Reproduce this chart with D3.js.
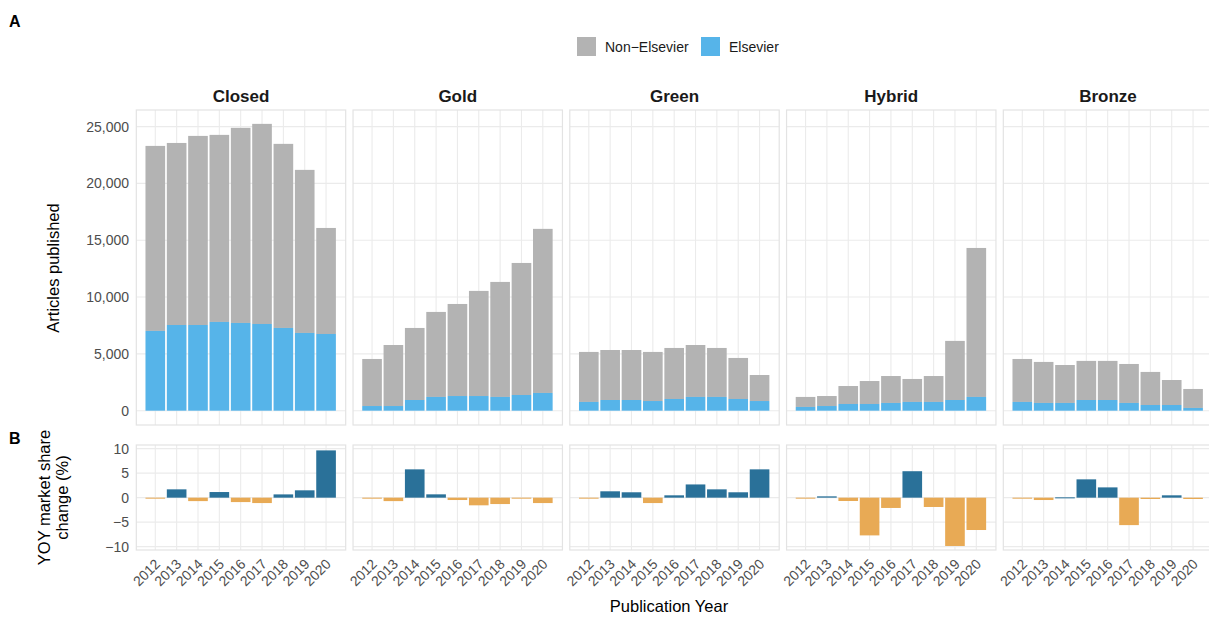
<!DOCTYPE html>
<html><head><meta charset="utf-8">
<script src="https://cdn.jsdelivr.net/npm/d3@7"></script>
<style>body{margin:0;background:#fff}svg{display:block;font-family:"Liberation Sans",Arial,sans-serif}</style>
</head><body><svg id="c" width="1209" height="618"></svg>
<script>
const years = [2012,2013,2014,2015,2016,2017,2018,2019,2020];
const categories = ["Closed","Gold","Green","Hybrid","Bronze"];
// total articles per year (Elsevier + Non-Elsevier)
const totalClosed = [23300,23560,24180,24270,24890,25240,23480,21190,16080];
const totalGold   = [4550,5780,7280,8690,9390,10540,11330,13000,16000];
const totalGreen  = [5170,5340,5340,5170,5520,5780,5520,4640,3140];
const totalHybrid = [1210,1290,2170,2610,3050,2790,3050,6140,14320];
const totalBronze = [4550,4290,4020,4380,4380,4110,3410,2700,1910];
// Elsevier articles per year
const elsClosed = [7020,7540,7540,7810,7720,7630,7280,6840,6750];
const elsGold   = [410,410,940,1210,1290,1290,1210,1380,1560];
const elsGreen  = [770,940,940,850,1030,1210,1210,1030,850];
const elsHybrid = [330,410,590,590,680,770,770,940,1210];
const elsBronze = [770,680,680,940,940,680,500,500,240];
// YOY market share change (%)
const yoyClosed = [-0.15,1.7,-0.7,1.15,-0.9,-1.1,0.67,1.5,9.65];
const yoyGold   = [-0.15,-0.7,5.78,0.68,-0.48,-1.56,-1.3,-0.15,-1.1];
const yoyGreen  = [-0.15,1.3,1.1,-1.1,0.48,2.7,1.7,1.1,5.78];
const yoyHybrid = [-0.15,0.27,-0.68,-7.7,-2.1,5.4,-1.9,-9.86,-6.6];
const yoyBronze = [-0.15,-0.48,0.07,3.74,2.1,-5.6,-0.27,0.48,-0.27];
const topTicks = [0,5000,10000,15000,20000,25000];
const botTicks = [-10,-5,0,5,10];
const legendLabels = ["Non\u2212Elsevier","Elsevier"];

const totals = [totalClosed,totalGold,totalGreen,totalHybrid,totalBronze];
const els = [elsClosed,elsGold,elsGreen,elsHybrid,elsBronze];
const yoy = [yoyClosed,yoyGold,yoyGreen,yoyHybrid,yoyBronze];

const C = {grey:"#B3B3B3", blue:"#56B4E9", dark:"#2A7199", orange:"#E8AA55", grid:"#EBEBEB", border:"#E3E3E3", tick:"#4D4D4D"};
const svg = d3.select("#c");
const pw = 209.4, pstep = 216.75, p0 = 136.3;
const pTop = {y0:110, y1:425}, pBot = {y0:445, y1:550};
const x = d3.scaleLinear().domain([2012-0.89, 2020+0.92]).range([0,pw]);
const yT = d3.scaleLinear().domain([-1260,26460]).range([pTop.y1, pTop.y0]);
const yB = d3.scaleLinear().domain([-10.68,10.75]).range([pBot.y1, pBot.y0]);
const bw = 0.92*(x(2013)-x(2012));
const fmt = d3.format(",");

categories.forEach((cat,i)=>{
  const g = svg.append("g").attr("transform",`translate(${p0+i*pstep},0)`);
  [[pTop,yT,topTicks],[pBot,yB,botTicks]].forEach(([p,ys,ticks])=>{
    g.selectAll(null).data(ticks).join("line").attr("x1",0).attr("x2",pw)
      .attr("y1",d=>ys(d)).attr("y2",d=>ys(d)).attr("stroke",C.grid).attr("stroke-width",1.1);
    g.selectAll(null).data(years).join("line").attr("x1",d=>x(d)).attr("x2",d=>x(d))
      .attr("y1",p.y0).attr("y2",p.y1).attr("stroke",C.grid).attr("stroke-width",1.1);
  });
  g.selectAll(null).data(years).join("rect").attr("x",(d)=>x(d)-bw/2).attr("width",bw)
    .attr("y",(d,j)=>yT(totals[i][j])).attr("height",(d,j)=>yT(els[i][j])-yT(totals[i][j])).attr("fill",C.grey);
  g.selectAll(null).data(years).join("rect").attr("x",(d)=>x(d)-bw/2).attr("width",bw)
    .attr("y",(d,j)=>yT(els[i][j])).attr("height",(d,j)=>yT(0)-yT(els[i][j])).attr("fill",C.blue);
  g.selectAll(null).data(years).join("rect").attr("x",(d)=>x(d)-bw/2).attr("width",bw)
    .attr("y",(d,j)=>yB(Math.max(0,yoy[i][j]))).attr("height",(d,j)=>Math.max(1,Math.abs(yB(yoy[i][j])-yB(0))))
    .attr("fill",(d,j)=>yoy[i][j]>0?C.dark:C.orange);
  [pTop,pBot].forEach(p=>g.append("rect").attr("x",0).attr("y",p.y0).attr("width",pw).attr("height",p.y1-p.y0)
    .attr("fill","none").attr("stroke",C.border).attr("stroke-width",1.2));
  g.append("text").attr("x",pw/2).attr("y",101.5).attr("text-anchor","middle").attr("font-weight","bold")
    .attr("font-size",17).attr("fill","#1A1A1A").text(cat);
  g.selectAll(null).data(years).join("text")
    .attr("transform",d=>`translate(${x(d)-1.2},${558}) rotate(-45)`).attr("text-anchor","end")
    .attr("dy","0.7em").attr("font-size",14).attr("fill",C.tick).text(d=>d);
});
svg.selectAll(null).data(topTicks).join("text").attr("x",129).attr("y",d=>yT(d)).attr("dy","0.36em")
  .attr("text-anchor","end").attr("font-size",14).attr("fill",C.tick).text(d=>fmt(d));
svg.selectAll(null).data(botTicks).join("text").attr("x",129).attr("y",d=>yB(d)).attr("dy","0.36em")
  .attr("text-anchor","end").attr("font-size",14).attr("fill",C.tick).text(d=>d3.format("")(d));
svg.append("text").attr("transform","translate(58.5,268) rotate(-90)").attr("text-anchor","middle")
  .attr("font-size",16.5).attr("fill","#000").text("Articles published");
svg.append("text").attr("transform","translate(49.5,497.5) rotate(-90)").attr("text-anchor","middle")
  .attr("font-size",16.5).attr("fill","#000").text("YOY market share");
svg.append("text").attr("transform","translate(68,497.5) rotate(-90)").attr("text-anchor","middle")
  .attr("font-size",16.5).attr("fill","#000").text("change (%)");
svg.append("text").attr("x",669).attr("y",612).attr("text-anchor","middle")
  .attr("font-size",16.5).attr("fill","#000").text("Publication Year");
svg.append("text").attr("x",9).attr("y",27.3).attr("font-weight","bold").attr("font-size",16).text("A");
svg.append("text").attr("x",9).attr("y",444).attr("font-weight","bold").attr("font-size",16).text("B");
const lg = svg.append("g");
const lx = [577,701], lc = [C.grey,C.blue];
legendLabels.forEach((t,k)=>{
  lg.append("rect").attr("x",lx[k]).attr("y",37).attr("width",19).attr("height",19).attr("fill",lc[k]);
  lg.append("text").attr("x",lx[k]+28).attr("y",46.5).attr("dy","0.36em").attr("font-size",14).attr("fill","#1A1A1A").text(t);
});
</script></body></html>
